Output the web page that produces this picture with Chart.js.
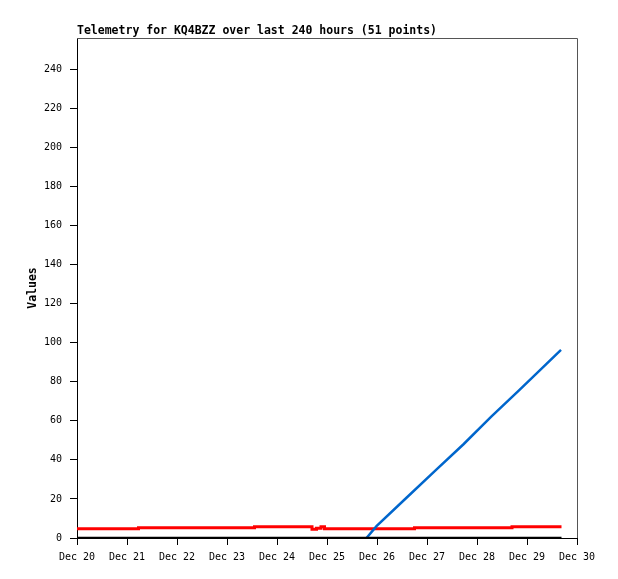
<!DOCTYPE html>
<html>
<head>
<meta charset="utf-8">
<script src="https://cdn.jsdelivr.net/npm/chart.js@4"></script>
<style>
html,body{margin:0;padding:0;background:#fff;}
#wrap{width:618px;height:579px;position:relative;}
</style>
</head>
<body>
<div id="wrap"><canvas id="c" width="618" height="579"></canvas></div>
<script>
// Days since Dec 20 00:00
const xTickLabels = ['Dec 20','Dec 21','Dec 22','Dec 23','Dec 24','Dec 25','Dec 26','Dec 27','Dec 28','Dec 29','Dec 30'];
const chartTitle = 'Telemetry for KQ4BZZ over last 240 hours (51 points)';
const yTitle = 'Values';

const redDays   = [0.00, 1.23, 3.55, 4.70, 4.79, 4.88, 4.95, 6.75, 8.70, 9.69];
const redValues = [4.8,  5.3,  5.8,  4.5,  5.0,  5.8,  4.8,  5.3,  5.8,  5.8];

const blueDays   = [5.79, 5.99, 6.59, 7.16, 7.73, 8.28, 8.84, 9.39, 9.68];
const blueValues = [0,    6.1,  20.6, 34.4, 48.0, 62.0, 75.6, 89.2, 96.3];

const blackDays   = [0.00, 9.69];
const blackValues = [0, 0];

const toPts = (xs, ys) => xs.map((x, i) => ({x: x, y: ys[i]}));

const FONT = '"DejaVu Sans Mono", "Liberation Mono", monospace';

const framePlugin = {
  id: 'frame',
  afterDraw(chart) {
    const {ctx, chartArea: a} = chart;
    ctx.save();
    ctx.strokeStyle = '#555555';
    ctx.lineWidth = 1;
    ctx.beginPath();
    ctx.moveTo(a.left, a.top + 0.5);
    ctx.lineTo(a.right + 0.5, a.top + 0.5);
    ctx.lineTo(a.right + 0.5, a.bottom);
    ctx.stroke();
    ctx.fillStyle = '#000';
    ctx.font = 'bold 11.5px ' + FONT;
    ctx.textBaseline = 'middle';
    ctx.textAlign = 'left';
    ctx.fillText(chartTitle, a.left, 31.5);
    ctx.restore();
  }
};

new Chart(document.getElementById('c'), {
  type: 'line',
  data: {
    datasets: [
      {label: 'zero', data: toPts(blackDays, blackValues), borderColor: '#000000', borderWidth: 2.5, pointRadius: 0, tension: 0, order: 1},
      {label: 'counter', data: toPts(blueDays, blueValues), borderColor: '#0066cc', borderWidth: 2.5, pointRadius: 0, tension: 0, order: 2},
      {label: 'voltage', data: toPts(redDays, redValues), borderColor: '#ff0000', borderWidth: 3, pointRadius: 0, stepped: true, order: 3}
    ]
  },
  options: {
    responsive: false,
    animation: false,
    events: [],
    layout: {padding: {top: 38, right: 41, left: 0, bottom: 0}},
    plugins: {legend: {display: false}, tooltip: {enabled: false}, title: {display: false}},
    scales: {
      x: {
        type: 'linear', min: 0, max: 10,
        afterFit(s) { s.height = 41; },
        afterBuildTicks(s) { s.ticks = xTickLabels.map((_, i) => ({value: i})); },
        ticks: {
          callback: (v) => xTickLabels[Math.round(v)] || '',
          color: '#000', font: {family: FONT, size: 10}, padding: 6, maxRotation: 0, autoSkip: false
        },
        grid: {display: true, drawOnChartArea: false, drawTicks: true, tickLength: 7, color: '#000', lineWidth: 1},
        border: {display: true, color: '#000', width: 1}
      },
      y: {
        type: 'linear', min: 0, max: 256,
        afterFit(s) { s.width = 77; },
        afterBuildTicks(s) { const t = []; for (let v = 0; v <= 240; v += 20) t.push({value: v}); s.ticks = t; },
        ticks: {color: '#000', font: {family: FONT, size: 10}, padding: 8},
        grid: {display: true, drawOnChartArea: false, drawTicks: true, tickLength: 7, color: '#000', lineWidth: 1},
        border: {display: true, color: '#000', width: 1},
        title: {display: true, text: yTitle, color: '#000', font: {family: FONT, size: 11.5, weight: 'bold'}, padding: {top: 26, bottom: 0}}
      }
    }
  },
  plugins: [framePlugin]
});
</script>
</body>
</html>
